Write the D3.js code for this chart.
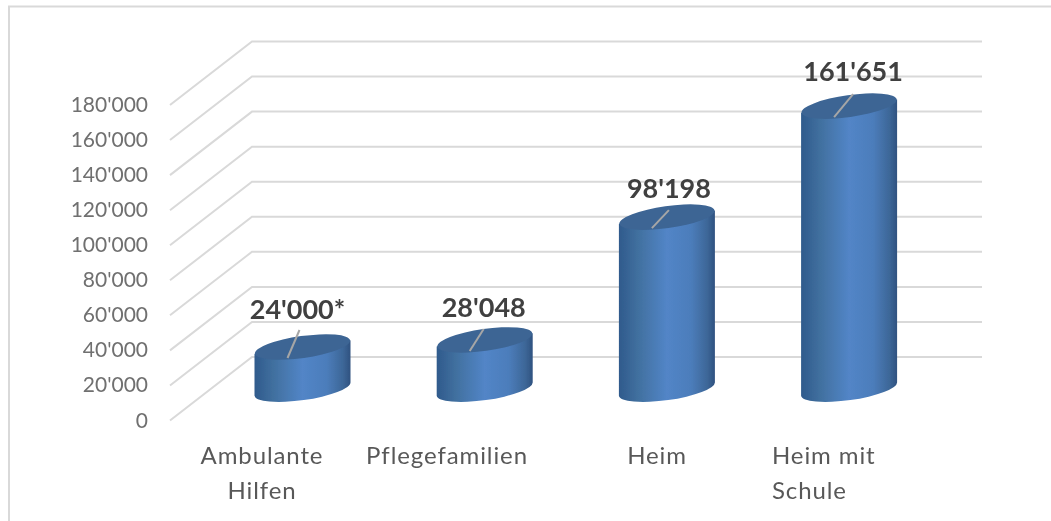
<!DOCTYPE html>
<html>
<head>
<meta charset="utf-8" />
<title>Kosten</title>
<script src="https://cdnjs.cloudflare.com/ajax/libs/d3/7.8.5/d3.min.js"></script>
<style>
  html, body { margin: 0; background: #fff; }
  svg { display: block; }
  text { font-family: Lato, sans-serif; }
</style>
</head>
<body>
<svg width="1051" height="521"></svg>
<script>
const categories = [["Ambulante", "Hilfen"], ["Pflegefamilien"], ["Heim"], ["Heim mit", "Schule"]]
const values = [24000, 28048, 98198, 161651]
const valueLabels = ["24'000*", "28'048", "98'198", "161'651"]
const yTicks = [0, 20000, 40000, 60000, 80000, 100000, 120000, 140000, 160000, 180000]

const fmt = d => d3.format(",")(d).replace(/,/g, "'")

const svg = d3.select("svg")
const defs = svg.append("defs")

// the reference is a slightly soft screenshot
defs.append("filter").attr("id", "soft").append("feGaussianBlur").attr("stdDeviation", 0.45)
const root = svg.append("g").attr("filter", "url(#soft)")

// chart frame
root.append("rect").attr("x", 0).attr("y", 0).attr("width", 1051).attr("height", 521).attr("fill", "#fff")
root.append("rect").attr("x", 9).attr("y", 6.5).attr("width", 1060).attr("height", 530)
  .attr("fill", "none").attr("stroke", "#d9d9d9").attr("stroke-width", 2)

// front and back walls have their own y scale
const yFront = d3.scaleLinear().domain([0, 180000]).range([420.5, 105])
const yBack = d3.scaleLinear().domain([0, 180000]).range([357, 41.5])
const yBar = d3.scaleLinear().domain([0, 180000]).range([389, 74])
const xBar = d3.scaleBand().domain(d3.range(4)).range([211.4, 940.2])
const barRx = 48, barRy = 11, tilt = -8
const backLeft = 252, frontLeft = 170, backRight = 982

const grid = root.append("g").attr("fill", "none").attr("stroke", "#d9d9d9").attr("stroke-width", 2)
grid.selectAll("path").data(yTicks).enter().append("path")
  .attr("d", d => d3.line()([[frontLeft, yFront(d)], [backLeft, yBack(d)], [backRight, yBack(d)]]))

root.append("g").selectAll("text").data(yTicks).enter().append("text")
  .attr("x", 148).attr("y", d => yFront(d) + 7)
  .attr("text-anchor", "end").attr("font-size", 21).attr("fill", "#6f6f6f")
  .text(fmt)

const grad = defs.append("linearGradient").attr("id", "cyl")
grad.selectAll("stop").data([
  [0, "#2f5a8c"], [0.2, "#41709f"], [0.5, "#5285c7"], [0.75, "#4c7dbb"], [0.92, "#3d6798"], [1, "#2f5280"]
]).enter().append("stop").attr("offset", d => d[0]).attr("stop-color", d => d[1])

// leader line ends and label offsets relative to the top of each cylinder
const leaderEnd = [[-3, -17], [-1, -11], [2, -7], [4, -12]]
const labelOffset = [[-5, -28], [-1, -23], [2, -19], [4, -25]]

const bars = root.append("g").selectAll("g").data(values).enter().append("g")
  .attr("transform", (d, i) => `translate(${xBar(i) + xBar.bandwidth() / 2},0)`)

bars.append("path").attr("fill", "url(#cyl)").attr("d", d => {
  const top = yBar(d), bottom = yBar(0)
  const dy = barRx * Math.sin(-tilt * Math.PI / 180)
  return `M${-barRx},${top + dy} L${-barRx},${bottom + dy}` +
    ` A${barRx},${barRy} ${tilt} 0 0 ${barRx},${bottom - dy}` +
    ` L${barRx},${top - dy} Z`
})
bars.append("ellipse").attr("rx", barRx).attr("ry", barRy).attr("fill", "#3d6594")
  .attr("transform", d => `translate(0,${yBar(d)}) rotate(${tilt})`)
bars.append("line").attr("stroke", "#a6a6a6").attr("stroke-width", 2)
  .attr("x1", -15).attr("y1", d => yBar(d) + 11)
  .attr("x2", (d, i) => leaderEnd[i][0]).attr("y2", (d, i) => yBar(d) + leaderEnd[i][1])
bars.append("text").attr("text-anchor", "middle").attr("font-size", 27).attr("font-weight", 700)
  .attr("fill", "#404040")
  .attr("x", (d, i) => labelOffset[i][0]).attr("y", (d, i) => yBar(d) + labelOffset[i][1])
  .text((d, i) => valueLabels[i])

// category labels, the last one is left aligned in the reference
const catX = [262, 447, 657, 772]
const catAnchor = ["middle", "middle", "middle", "start"]
const cat = root.append("g").selectAll("text").data(categories).enter().append("text")
  .attr("text-anchor", (d, i) => catAnchor[i]).attr("font-size", 24).attr("letter-spacing", 0.9).attr("fill", "#595959")
  .attr("x", (d, i) => catX[i]).attr("y", 464)
cat.selectAll("tspan").data(d => d).enter().append("tspan")
  .attr("x", function() { return d3.select(this.parentNode).attr("x") })
  .attr("dy", (d, i) => i ? 35 : 0)
  .text(d => d)
</script>
</body>
</html>
